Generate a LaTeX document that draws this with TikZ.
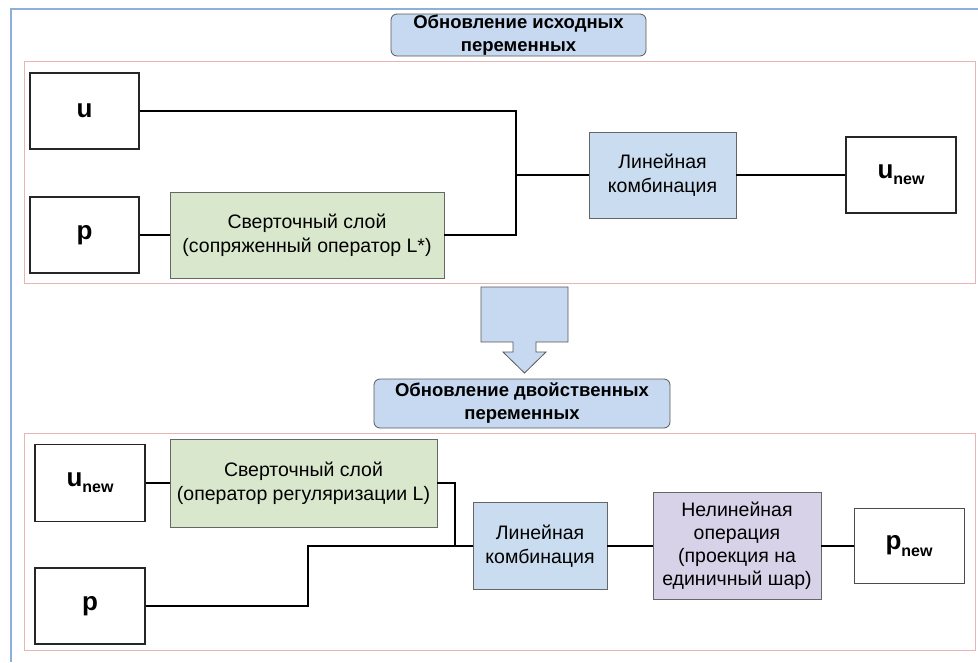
\documentclass[tikz,border=0pt]{standalone}
\usepackage{fontspec}
\setmainfont{Liberation Sans}
\begin{document}
\begin{tikzpicture}[x=1pt,y=-1pt,
  txt/.style={font=\fontsize{19.5}{24}\selectfont, align=center, inner sep=0pt},
  varbox/.style={draw=black!85, line width=1.6pt, fill=white, inner sep=0pt,
    font=\fontsize{26}{30}\selectfont\bfseries},
  opbox/.style={txt, draw=black!60, line width=0.8pt},
  conv/.style={opbox, fill=convgreen},
  lin/.style={opbox, fill=linblue},
  nonlin/.style={opbox, fill=nlpurple},
  title/.style={txt, font=\fontsize{18.5}{23}\selectfont\bfseries, draw=black!65,
    line width=0.8pt, fill=titleblue, rounded corners=6pt},
  frame/.style={draw=framered, line width=0.9pt},
  wire/.style={draw=black, line width=1.4pt}
]
\definecolor{convgreen}{HTML}{D9E7CC}
\definecolor{linblue}{HTML}{CADCF0}
\definecolor{nlpurple}{HTML}{D8D2E8}
\definecolor{titleblue}{HTML}{C6D9F1}
\definecolor{framered}{HTML}{E8B4B4}
\definecolor{outerblue}{HTML}{8EAFDC}
\newcommand{\subnew}{\raisebox{-0.45ex}{\fontsize{16}{16}\selectfont new}}
\useasboundingbox (0,0) rectangle (978,662);
% outer frame
\draw[outerblue, line width=1.2pt] (11,662) -- (11,9) -- (978,9);
% red frames
\draw[frame] (24,61) rectangle (975,283);
\draw[frame] (24,433) rectangle (975,650);
% titles
\node[title, minimum width=255, minimum height=42] (t1) at (518.5,35) {Обновление исходных\\переменных};
\node[title, minimum width=296, minimum height=49] (t2) at (522,403.5) {Обновление двойственных\\переменных};
% block arrow
\draw[black!65, line width=0.8pt, fill=titleblue]
  (481,287) -- (568,287) -- (568,342) -- (536,342) -- (536,352) -- (546,352)
  -- (524.5,373) -- (503,352) -- (513,352) -- (513,342) -- (481,342) -- cycle;
% top part
\node[varbox, minimum width=109, minimum height=76] (u) at (84.5,111) {u};
\node[varbox, minimum width=109, minimum height=76] (p) at (84.5,235) {p};
\node[conv, minimum width=274, minimum height=86] (c1) at (307,235) {Сверточный слой\\(сопряженный оператор L*)};
\node[lin, minimum width=147, minimum height=86] (l1) at (662.5,175) {Линейная\\комбинация};
\node[varbox, minimum width=110, minimum height=76] (un1) at (901,175) {u\subnew};
\coordinate (j1) at (516,175);
\draw[wire] (u.east) -| (516,175) |- (c1.east);
\draw[wire] (j1) -- (l1.west);
\draw[wire] (p.east) -- (c1.west);
\draw[wire] (l1.east) -- (un1.west);
% bottom part
\node[varbox, minimum width=110, minimum height=77] (un2) at (90,483) {u\subnew};
\node[conv, minimum width=267, minimum height=88] (c2) at (303.5,483) {Сверточный слой\\(оператор регуляризации L)};
\node[varbox, minimum width=110, minimum height=76] (p2) at (90,606) {p};
\node[lin, minimum width=134, minimum height=87] (l2) at (540,546) {Линейная\\комбинация};
\node[nonlin, minimum width=168, minimum height=107, font=\fontsize{19.5}{23}\selectfont] (nl) at (737,546) {Нелинейная\\операция\\(проекция на\\единичный шар)};
\node[varbox, draw=black!70, line width=1pt, minimum width=110, minimum height=75] (pn) at (909,546) {p\subnew};
\coordinate (j2) at (455,546);
\draw[wire] (un2.east) -- (c2.west);
\draw[wire] (c2.east) -| (j2);
\draw[wire] (p2.east) -| (308,546) -- (l2.west);
\draw[wire] (l2.east) -- (nl.west);
\draw[wire] (nl.east) -- (pn.west);
\end{tikzpicture}
\end{document}
